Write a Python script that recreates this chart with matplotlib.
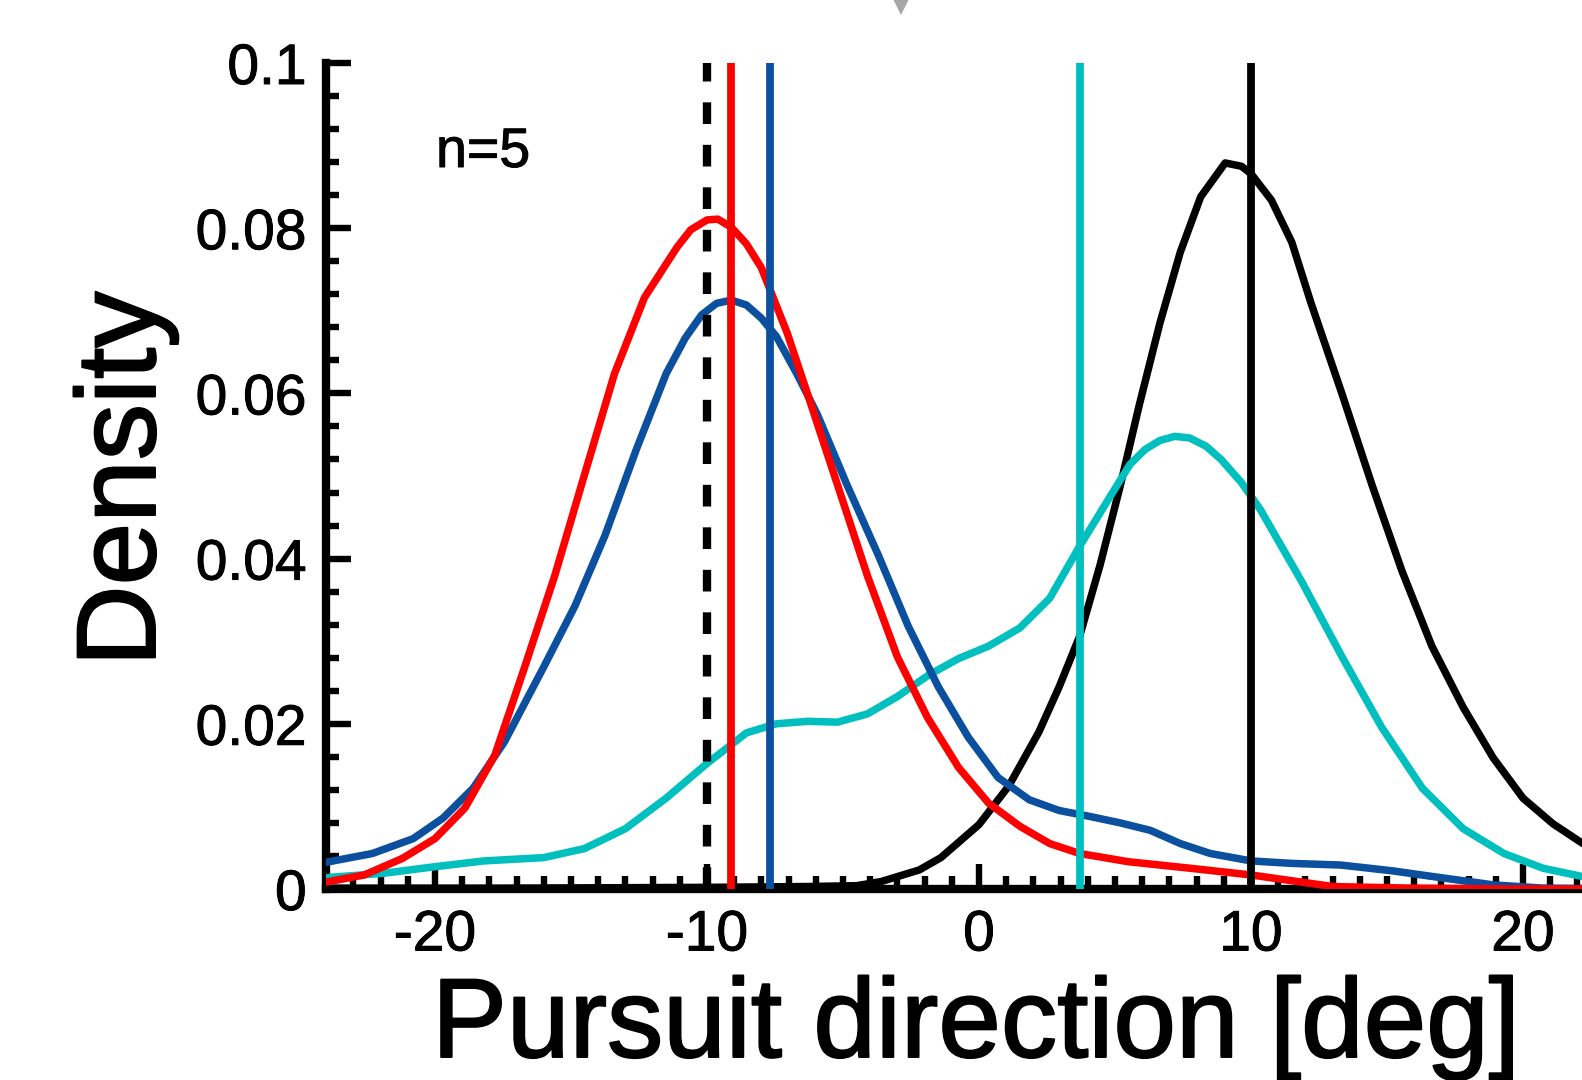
import matplotlib
matplotlib.use("Agg")
import matplotlib.pyplot as plt
import matplotlib.patheffects as pe
from matplotlib.ticker import MultipleLocator, FixedLocator, FixedFormatter

plt.rcParams['font.family'] = ['Liberation Sans', 'DejaVu Sans']

# ---- data ----
red_x = [-23.9, -22.6, -21.2, -20.0, -18.9, -17.8, -16.7, -15.6, -14.5, -13.4, -12.3, -11.1,
         -10.6, -10.0, -9.6, -9.1, -8.55, -8.0, -7.05, -6.3, -5.2, -4.1, -3.0, -1.9, -0.75,
         0.35, 1.5, 2.6, 3.7, 5.5, 7.8, 10.0, 11.5, 13.0, 15.9, 19.6, 24.0]
red_y = [0.0009, 0.0017, 0.0037, 0.0061, 0.0098, 0.0162, 0.0269, 0.0379, 0.0502, 0.0624,
         0.0716, 0.0777, 0.0798, 0.0810, 0.0811, 0.0801, 0.0781, 0.0752, 0.0673, 0.0599,
         0.0489, 0.0379, 0.0281, 0.0208, 0.0147, 0.0104, 0.0076, 0.0055, 0.0043, 0.0033,
         0.0025, 0.0017, 0.0010, 0.0003, 0.0001, 0.0, 0.0]

blue_x = [-23.9, -22.3, -20.8, -19.7, -18.6, -17.45, -16.0, -14.85, -13.75, -12.6, -11.5,
          -10.8, -10.2, -9.65, -9.1, -8.55, -8.0, -7.45, -6.7, -5.95, -4.85, -3.7, -2.6,
          -1.5, -0.4, 0.7, 1.85, 2.95, 4.05, 5.2, 6.3, 7.4, 8.5, 10.0, 11.5, 13.3, 15.2,
          16.7, 18.9, 20.75, 24.0]
blue_y = [0.0033, 0.0043, 0.0061, 0.0086, 0.0122, 0.0178, 0.0269, 0.0343, 0.0428, 0.0532,
          0.0624, 0.0667, 0.0695, 0.0709, 0.0713, 0.0707, 0.0691, 0.0669, 0.0624, 0.0575,
          0.0489, 0.0404, 0.0318, 0.0245, 0.0184, 0.0135, 0.0108, 0.0095, 0.0088, 0.0080,
          0.0071, 0.0055, 0.0043, 0.0034, 0.0031, 0.0029, 0.0022, 0.0015, 0.0005, 0.0001,
          0.0]

cyan_x = [-23.9, -21.9, -20.0, -18.2, -16.0, -14.5, -13.0, -11.5, -10.0, -8.55, -7.45, -6.3,
          -5.2, -4.1, -3.0, -1.85, -0.75, 0.35, 1.5, 2.6, 3.7, 4.8, 5.55, 6.1, 6.65, 7.2,
          7.75, 8.35, 8.9, 9.65, 10.35, 11.85, 13.35, 14.8, 16.3, 17.8, 19.3, 20.75, 22.2,
          24.0]
cyan_y = [0.0014, 0.0019, 0.0027, 0.0034, 0.0038, 0.0049, 0.0073, 0.0110, 0.0152, 0.0189,
          0.0200, 0.0203, 0.0202, 0.0212, 0.0233, 0.0259, 0.0279, 0.0294, 0.0316, 0.0352,
          0.0415, 0.0474, 0.0514, 0.0532, 0.0543, 0.0548, 0.0546, 0.0536, 0.0520, 0.0492,
          0.0459, 0.0373, 0.0281, 0.0196, 0.0122, 0.0073, 0.0043, 0.0025, 0.0015, 0.0008]

black_x = [-23.9, -17.5, -10.0, -6.3, -4.5, -3.6, -2.9, -2.2, -1.4, -0.7, 0.0, 1.1, 2.2,
           2.95, 3.7, 4.45, 5.2, 5.9, 6.65, 7.4, 8.15, 9.05, 9.65, 10.0, 10.75, 11.5, 12.2,
           13.35, 14.45, 15.55, 16.65, 17.8, 18.9, 20.0, 21.1, 22.2, 24.0]
black_y = [0.0001, 0.0001, 0.0002, 0.0003, 0.0004, 0.0009, 0.0016, 0.0023, 0.0038, 0.0058,
           0.0078, 0.0125, 0.0190, 0.0245, 0.0306, 0.0392, 0.0489, 0.0587, 0.0685, 0.0771,
           0.0838, 0.0879, 0.0875, 0.0866, 0.0834, 0.0783, 0.0710, 0.0599, 0.0489, 0.0385,
           0.0294, 0.0220, 0.0159, 0.0110, 0.0079, 0.0055, 0.0030]

# vertical lines: target (dashed), and means of each distribution
target_dashed = -10.0
mean_red = -9.1
mean_blue = -7.7
mean_cyan = 3.7
mean_black = 10.0

# grey marker above the plot (partly cut off at the figure top)
marker_x = -2.87
marker_y = 0.1076

xtick_vals = [-20, -10, 0, 10, 20]
xtick_labels = ['-20', '-10', '0', '10', '20']
ytick_vals = [0, 0.02, 0.04, 0.06, 0.08, 0.1]
ytick_labels = ['0', '0.02', '0.04', '0.06', '0.08', '0.1']

# ---- figure ----
W, H = 1582, 1080
fig = plt.figure(figsize=(W / 100, H / 100), dpi=100)
ax = fig.add_axes([326.2 / W, 191 / H, 1305.6 / W, 826 / H])

c_red = '#FF0000'
c_blue = '#0B4F9F'
c_cyan = '#00BFBF'
c_black = '#000000'

lw_c = 5.4
ax.plot(black_x, black_y, color=c_black, lw=lw_c, zorder=3, solid_joinstyle='round')
ax.plot(cyan_x, cyan_y, color=c_cyan, lw=lw_c, zorder=3, solid_joinstyle='round')
ax.plot(blue_x, blue_y, color=c_blue, lw=lw_c, zorder=3, solid_joinstyle='round')
ax.plot(red_x, red_y, color=c_red, lw=lw_c, zorder=3, solid_joinstyle='round')

lw_v = 5.6
ax.plot([target_dashed, target_dashed], [0, 0.1], color=c_black, lw=6.0,
        linestyle=(0, (2.6, 2.5)), zorder=4, solid_capstyle='butt', dash_capstyle='butt')
ax.plot([mean_red, mean_red], [0, 0.1], color=c_red, lw=lw_v, zorder=4, solid_capstyle='butt')
ax.plot([mean_blue, mean_blue], [0, 0.1], color=c_blue, lw=lw_v, zorder=4, solid_capstyle='butt')
ax.plot([mean_cyan, mean_cyan], [0, 0.1], color=c_cyan, lw=lw_v, zorder=4, solid_capstyle='butt')
ax.plot([mean_black, mean_black], [0, 0.1], color=c_black, lw=lw_v, zorder=4, solid_capstyle='butt')

ax.plot([marker_x], [marker_y], marker='v', markersize=22, color='#A6A6A6',
        markeredgewidth=0, linestyle='none', clip_on=False, zorder=5)

ax.set_xlim(-24, 24)
ax.set_ylim(0, 0.1)

ax.xaxis.set_major_locator(FixedLocator(xtick_vals))
ax.xaxis.set_major_formatter(FixedFormatter(xtick_labels))
ax.xaxis.set_minor_locator(MultipleLocator(1))
ax.yaxis.set_major_locator(FixedLocator(ytick_vals))
ax.yaxis.set_major_formatter(FixedFormatter(ytick_labels))
ax.yaxis.set_minor_locator(MultipleLocator(0.004))

for s in ['top', 'right']:
    ax.spines[s].set_visible(False)
for s in ['left', 'bottom']:
    ax.spines[s].set_linewidth(6.0)
    ax.spines[s].set_capstyle('projecting')
    ax.spines[s].set_zorder(2.5)

ax.tick_params(which='major', direction='in', length=18, width=4.6, labelsize=41,
               colors='black')
ax.tick_params(which='minor', direction='in', length=9.5, width=4.6)
ax.tick_params(axis='x', which='major', pad=14)
ax.tick_params(axis='y', which='major', pad=14)

stroke_small = [pe.withStroke(linewidth=0.7, foreground='black')]
stroke_big = [pe.withStroke(linewidth=1.4, foreground='black')]
for lbl in ax.get_xticklabels() + ax.get_yticklabels():
    lbl.set_path_effects(stroke_small)

fig.text(126 / W, 1 - 479 / H, 'Density', rotation=90, ha='center', va='center',
         fontsize=81, path_effects=stroke_big)
fig.text(976 / W, 1 - 1057 / H, 'Pursuit direction [deg]', ha='center', va='baseline',
         fontsize=81, path_effects=stroke_big)
fig.text(436 / W, 1 - 167 / H, 'n=5', ha='left', va='baseline', fontsize=40,
         path_effects=stroke_small)

fig.savefig('out.png', dpi=100)
